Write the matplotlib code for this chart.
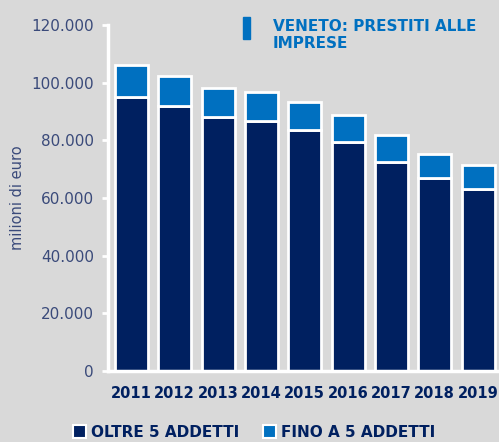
import matplotlib.pyplot as plt
import matplotlib as mpl
from matplotlib.patches import Patch, Rectangle
import numpy as np

# dati (milioni di euro)
anni = ['2011', '2012', '2013', '2014', '2015', '2016', '2017', '2018', '2019']
oltre5 = [95000, 91900, 88100, 86800, 83600, 79300, 72400, 66800, 63100]
fino5 = [11100, 10400, 10100, 10100, 9800, 9500, 9500, 8500, 8400]

blu_scuro = '#002060'
blu = '#0070c0'
grigio = '#d9d9d9'
testo = '#3a4a7a'

plt.rcParams['font.family'] = 'DejaVu Sans'

fig = plt.figure(figsize=(4.99, 4.42), dpi=100, facecolor=grigio)
ax = fig.add_axes([0.2164, 0.1606, 0.78, 0.7828])
ax.set_facecolor(grigio)

x = np.arange(len(anni))
ax.bar(x, oltre5, width=0.76, color=blu_scuro, edgecolor='white', linewidth=2)
ax.bar(x, fino5, bottom=oltre5, width=0.76, color=blu, edgecolor='white', linewidth=2)

ax.set_xlim(-0.54, 8.44)
ax.set_ylim(0, 120000)
ax.set_yticks(np.arange(0, 120001, 20000))
ax.yaxis.set_major_formatter(mpl.ticker.FuncFormatter(lambda v, p: f'{int(v):,}'.replace(',', '.')))
ax.set_xticks(x)
ax.set_xticklabels(anni, fontsize=10.5, fontweight='bold', color=blu_scuro)
ax.tick_params(axis='y', colors='white', labelcolor=testo, labelsize=11, length=4, width=2, pad=6)
ax.tick_params(axis='x', length=0, pad=11)

for s in ['top', 'right']:
    ax.spines[s].set_visible(False)
for s in ['left', 'bottom']:
    ax.spines[s].set_color('white')
    ax.spines[s].set_linewidth(2.5)

fig.text(18/499, 1 - 198/442, 'milioni di euro', rotation=90, fontsize=10.5,
         color=testo, ha='center', va='center')

# titolo con marcatore
fig.patches.append(Rectangle((243/499, 1 - 39/442), 7/499, 22/442,
                             transform=fig.transFigure, color=blu))
fig.text(273/499, 1 - 19/442, 'VENETO: PRESTITI ALLE\nIMPRESE', fontsize=11,
         fontweight='bold', color=blu, ha='left', va='top', linespacing=1.2)

handles = [Patch(facecolor=blu_scuro, edgecolor='white', linewidth=1.5, label='OLTRE 5 ADDETTI'),
           Patch(facecolor=blu, edgecolor='white', linewidth=1.5, label='FINO A 5 ADDETTI')]
leg = fig.legend(handles=handles, loc='center', bbox_to_anchor=(0.509, 0.022), ncol=2,
                 frameon=False, handlelength=0.85, handleheight=0.85, handletextpad=0.3,
                 columnspacing=1.6, prop={'size': 11, 'weight': 'bold'})
for t in leg.get_texts():
    t.set_color(blu_scuro)

plt.savefig('out.png', dpi=100, facecolor=grigio)
